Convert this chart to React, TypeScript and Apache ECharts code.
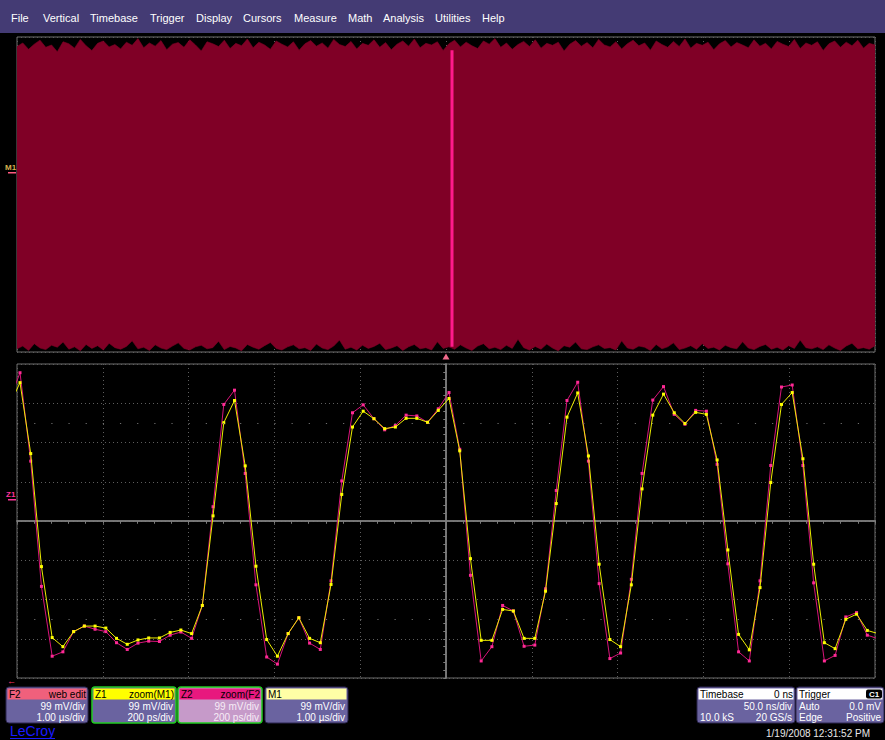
import React, { useEffect, useRef } from "react";
import * as echarts from "echarts";

// ---------- data ----------
const MENU_ITEMS = ["File", "Vertical", "Timebase", "Trigger", "Display", "Cursors", "Measure", "Math", "Analysis", "Utilities", "Help"];
const MENU_X = [11, 43, 90, 150, 196, 243, 294, 348, 383, 435, 482];

// M1 acquisition envelope (mV), 10 us record
const M1_MAX = [372, 381, 365, 378, 388, 370, 376, 359, 384, 379, 368, 390, 374, 362, 380, 386, 371, 377, 366, 383, 375, 392, 369, 381, 373, 387, 364, 378, 382, 370, 389, 376, 361, 384, 379, 372, 388, 367, 380, 374, 391, 369, 383, 376, 365, 386, 378, 371, 384, 363, 379, 387, 373, 381, 368, 390, 377, 372, 385, 366, 380, 375, 389, 370, 382, 364, 378, 386, 373, 391, 369, 380, 376, 384, 362, 379, 388, 371, 383, 374, 367, 386, 378, 392, 370, 381, 365, 377, 385, 372, 389, 368, 380, 375, 383, 361, 378, 387, 373, 382, 369, 390, 376, 371, 384, 366, 379, 388, 374, 381, 363, 386, 377, 370, 385, 372, 391, 368, 380, 375, 383, 364, 379, 387, 371, 382, 376, 369, 389, 373, 380, 366, 385, 378, 372, 390, 367, 381, 375, 384, 362, 379, 386, 370, 383, 374, 388, 368, 380, 376];
const M1_MIN = [-388, -381, -392, -375, -386, -390, -379, -384, -371, -389, -383, -393, -377, -387, -380, -391, -374, -385, -389, -382, -368, -388, -384, -392, -378, -386, -390, -381, -373, -387, -391, -383, -379, -388, -385, -369, -390, -382, -386, -393, -377, -384, -389, -380, -372, -387, -391, -383, -378, -388, -385, -392, -376, -386, -390, -381, -366, -389, -384, -391, -379, -387, -382, -374, -390, -386, -380, -392, -383, -377, -388, -385, -391, -370, -387, -383, -389, -378, -386, -392, -381, -375, -388, -384, -390, -379, -387, -364, -385, -391, -382, -389, -376, -386, -393, -380, -384, -371, -388, -390, -383, -378, -387, -385, -391, -368, -386, -389, -381, -384, -392, -377, -388, -383, -373, -390, -386, -380, -389, -375, -387, -384, -391, -379, -385, -388, -370, -386, -390, -382, -377, -389, -384, -391, -380, -387, -366, -385, -388, -383, -390, -378, -386, -392, -381, -374, -388, -385, -389, -380];
const M1_T_MIN = -5; // us
const M1_T_MAX = 5;
const ZOOM_MARK_T = 0.07; // us
const ZOOM_MARK_MV = [363, -383];

// Zoom traces (mV), sample times start at START_PS, spaced STEP_PS
const START_PS = -1018;
const STEP_PS = 25;
const Z1_MV = [290, 349, 170, -115, -294, -317, -279, -265, -265, -270, -296, -311, -300, -295, -295, -281, -275, -284, -213, 13, 248, 304, 139, -114, -299, -341, -284, -244, -296, -307, -160, 67, 237, 277, 258, 233, 237, 259, 259, 249, 279, 309, 177, -95, -301, -301, -223, -227, -296, -296, -177, 44, 262, 323, 164, -109, -299, -317, -161, 81, 267, 320, 273, 246, 274, 269, 154, -73, -286, -325, -168, 97, 294, 324, 157, -109, -307, -322, -248, -235, -276, -284];
const Z2_MV = [303, 374, 151, -165, -341, -330, -279, -265, -273, -279, -307, -324, -308, -303, -304, -288, -280, -296, -213, 36, 294, 330, 120, -161, -343, -361, -284, -244, -308, -324, -151, 101, 273, 293, 258, 230, 241, 267, 265, 249, 283, 324, 181, -137, -353, -317, -213, -227, -316, -313, -171, 77, 304, 350, 151, -158, -347, -333, -147, 120, 305, 339, 269, 244, 279, 277, 143, -108, -330, -353, -151, 140, 338, 343, 140, -156, -353, -339, -242, -231, -288, -297];

const MV_PER_DIV = 99;
const PS_PER_DIV = 200;

// ---------- helpers ----------
const FONT = '"Liberation Sans", Arial, sans-serif';
const BODY = "#6a63a0";
const M1_RED = "#800026";

function txt(x: number, y: number, text: string, fill: string, size: number, align = "left", weight = "normal") {
  return {
    type: "text",
    x,
    y,
    silent: true,
    style: { text, fill, font: `${weight} ${size}px ${FONT}`, textAlign: align, textVerticalAlign: "middle" },
  };
}

function infoBox(
  x: number,
  w: number,
  headerFill: string,
  hl: string,
  hr: string,
  rows: [string, string][],
  border: string,
  borderW: number,
  body: string,
  textColor: string
) {
  const els: any[] = [
    { type: "rect", shape: { x, y: 687, width: w, height: 36, r: 3 }, style: { fill: body, stroke: border, lineWidth: borderW } },
    { type: "rect", shape: { x: x + 1.5, y: 688.5, width: w - 3, height: 11 }, style: { fill: headerFill } },
    txt(x + 3, 694.5, hl, "#000", 10),
  ];
  if (hr) els.push(txt(x + w - 2, 694.5, hr, "#000", 10, "right"));
  rows.forEach((r, k) => {
    const y = 706.5 + k * 11;
    if (r[0]) els.push(txt(x + 3, y, r[0], textColor, 10));
    if (r[1]) els.push(txt(x + w - 3, y, r[1], textColor, 10, "right"));
  });
  return els;
}

export default function App() {
  const ref = useRef<HTMLDivElement>(null);
  useEffect(() => {
    if (!ref.current) return;
    const chart = echarts.init(ref.current, undefined, { renderer: "svg" });

    const n = Math.min(M1_MAX.length, M1_MIN.length);
    const envMax = [] as number[][];
    const envMin = [] as number[][];
    for (let k = 0; k < n; k++) {
      const t = M1_T_MIN + ((M1_T_MAX - M1_T_MIN) * k) / (n - 1);
      envMax.push([t, M1_MAX[k]]);
      envMin.push([t, M1_MIN[k]]);
    }
    const z1 = Z1_MV.map((v, i) => [START_PS + i * STEP_PS, v]);
    const z2 = Z2_MV.map((v, i) => [START_PS + i * STEP_PS, v]);

    const gridLine = { show: true, lineStyle: { color: "#5e5e5e", type: [1, 3], width: 1 } };
    const axColor = "#7c7c7c";
    const hidden = { axisLabel: { show: false }, axisTick: { show: false }, axisLine: { show: false } };

    const centerAxis = (inside: boolean, split: boolean) => ({
      axisLine: { show: true, onZero: true, lineStyle: { color: axColor, width: 1.5 } },
      axisTick: { show: true, inside, length: 2.5, lineStyle: { color: axColor, width: 1 } },
      minorTick: { show: true, splitNumber: 5, length: 2.5, lineStyle: { color: axColor, width: 1 } },
      axisLabel: { show: false },
      splitLine: split ? gridLine : { show: false },
    });

    const graphic: any[] = [
      { type: "rect", shape: { x: 0, y: 0, width: 885, height: 33 }, style: { fill: "#443b74" } },
      ...MENU_ITEMS.map((m, k) => txt(MENU_X[k], 18, m, "#ffffff", 11)),
      txt(5, 167, "M1", "#d6b050", 8, "left", "bold"),
      { type: "rect", shape: { x: 8, y: 172, width: 8, height: 1.5 }, style: { fill: "#ff5a80" } },
      txt(6, 494, "Z1", "#ff3399", 8, "left", "bold"),
      { type: "rect", shape: { x: 8, y: 499, width: 8, height: 1.5 }, style: { fill: "#ff3399" } },
      { type: "polygon", shape: { points: [[442.5, 359.5], [449.5, 359.5], [446, 353.5]] }, style: { fill: "#f06a8c" } },
      txt(7, 681, "←", "#ff3366", 9),
      ...infoBox(6, 82, "#f0607c", "F2", "web edit", [["", "99 mV/div"], ["", "1.00 µs/div"]], "#2c2650", 1, BODY, "#ffffff"),
      ...infoBox(92, 84, "#ffff00", "Z1", "zoom(M1)", [["", "99 mV/div"], ["", "200 ps/div"]], "#22cc22", 1.5, BODY, "#ffffff"),
      ...infoBox(178, 84, "#e8187e", "Z2", "zoom(F2", [["", "99 mV/div"], ["", "200 ps/div"]], "#22cc22", 1.5, "#c69ac9", "#f6ecf6"),
      ...infoBox(265, 83, "#ffffa6", "M1", "", [["", "99 mV/div"], ["", "1.00 µs/div"]], "#2c2650", 1, BODY, "#ffffff"),
      ...infoBox(697, 98, "#ffffff", "Timebase", "0 ns", [["", "50.0 ns/div"], ["10.0 kS", "20 GS/s"]], "#2c2650", 1, BODY, "#ffffff"),
      ...infoBox(796, 88, "#ffffff", "Trigger", "", [["Auto", "0.0 mV"], ["Edge", "Positive"]], "#2c2650", 1, BODY, "#ffffff"),
      { type: "rect", shape: { x: 866, y: 689.5, width: 16, height: 9, r: 2 }, style: { fill: "#000" } },
      txt(874, 694.5, "C1", "#ffffff", 8, "center", "bold"),
      txt(10, 731, "LeCroy", "#1a1aff", 14),
      { type: "rect", shape: { x: 10, y: 738, width: 45, height: 1 }, style: { fill: "#1a1aff" } },
      txt(870, 733, "1/19/2008 12:31:52 PM", "#e8e8e8", 10, "right"),
    ];

    const option: any = {
      animation: false,
      backgroundColor: "#000000",
      grid: [
        { left: 17, top: 37, width: 858, height: 315, show: true, borderColor: "#6e6e6e", borderWidth: 1, backgroundColor: "#000" },
        { left: 17, top: 364, width: 858, height: 314, show: true, borderColor: "#6e6e6e", borderWidth: 1, backgroundColor: "#000" },
      ],
      xAxis: [
        { gridIndex: 0, type: "value", min: M1_T_MIN, max: M1_T_MAX, interval: 1, ...hidden, splitLine: gridLine },
        { gridIndex: 1, type: "value", min: -5 * PS_PER_DIV, max: 5 * PS_PER_DIV, interval: PS_PER_DIV, ...centerAxis(false, true) },
        { gridIndex: 1, type: "value", min: -5 * PS_PER_DIV, max: 5 * PS_PER_DIV, interval: PS_PER_DIV, ...centerAxis(true, false) },
      ],
      yAxis: [
        { gridIndex: 0, type: "value", min: -4 * MV_PER_DIV, max: 4 * MV_PER_DIV, interval: MV_PER_DIV, ...hidden, splitLine: gridLine },
        { gridIndex: 1, type: "value", min: -4 * MV_PER_DIV, max: 4 * MV_PER_DIV, interval: MV_PER_DIV, ...centerAxis(false, true) },
        { gridIndex: 1, type: "value", min: -4 * MV_PER_DIV, max: 4 * MV_PER_DIV, interval: MV_PER_DIV, ...centerAxis(true, false) },
      ],
      series: [
        {
          type: "line", xAxisIndex: 0, yAxisIndex: 0, data: envMax,
          symbol: "none", silent: true, lineStyle: { color: M1_RED, width: 0.6 },
          areaStyle: { color: M1_RED, opacity: 1 },
          markArea: {
            silent: true,
            itemStyle: { color: M1_RED, opacity: 1 },
            data: [[{ xAxis: M1_T_MIN, yAxis: -340 }, { xAxis: M1_T_MAX, yAxis: 340 }]],
          },
        },
        {
          type: "line", xAxisIndex: 0, yAxisIndex: 0, data: envMin,
          symbol: "none", silent: true, lineStyle: { color: M1_RED, width: 0.6 },
          areaStyle: { color: M1_RED, opacity: 1 },
        },
        {
          type: "line", xAxisIndex: 0, yAxisIndex: 0, data: ZOOM_MARK_MV.map((v) => [ZOOM_MARK_T, v]),
          symbol: "none", silent: true, z: 5, lineStyle: { color: "#ff1a8c", width: 3 },
        },
        {
          type: "line", xAxisIndex: 1, yAxisIndex: 1, data: z2, symbol: "rect", symbolSize: 3, showAllSymbol: true,
          silent: true, z: 3, lineStyle: { color: "#d8147a", width: 1 }, itemStyle: { color: "#ff2a95" },
          markLine: {
            silent: true, symbol: "none", label: { show: false },
            lineStyle: { color: "#6e6e6e", type: [1.2, 15.96], width: 1 },
            data: [{ yAxis: 2.5 * MV_PER_DIV }, { yAxis: -2.5 * MV_PER_DIV }],
          },
        },
        {
          type: "line", xAxisIndex: 1, yAxisIndex: 1, data: z1, symbol: "rect", symbolSize: 3, showAllSymbol: true,
          silent: true, z: 4, lineStyle: { color: "#eeee00", width: 1 }, itemStyle: { color: "#ffff00" },
        },
      ],
      graphic,
    };
    chart.setOption(option);
    return () => chart.dispose();
  }, []);

  return (
    <div style={{ position: "absolute", left: 0, top: 0, width: 885, height: 740, background: "#000" }}>
      <div ref={ref} style={{ width: 885, height: 740 }} />
    </div>
  );
}
